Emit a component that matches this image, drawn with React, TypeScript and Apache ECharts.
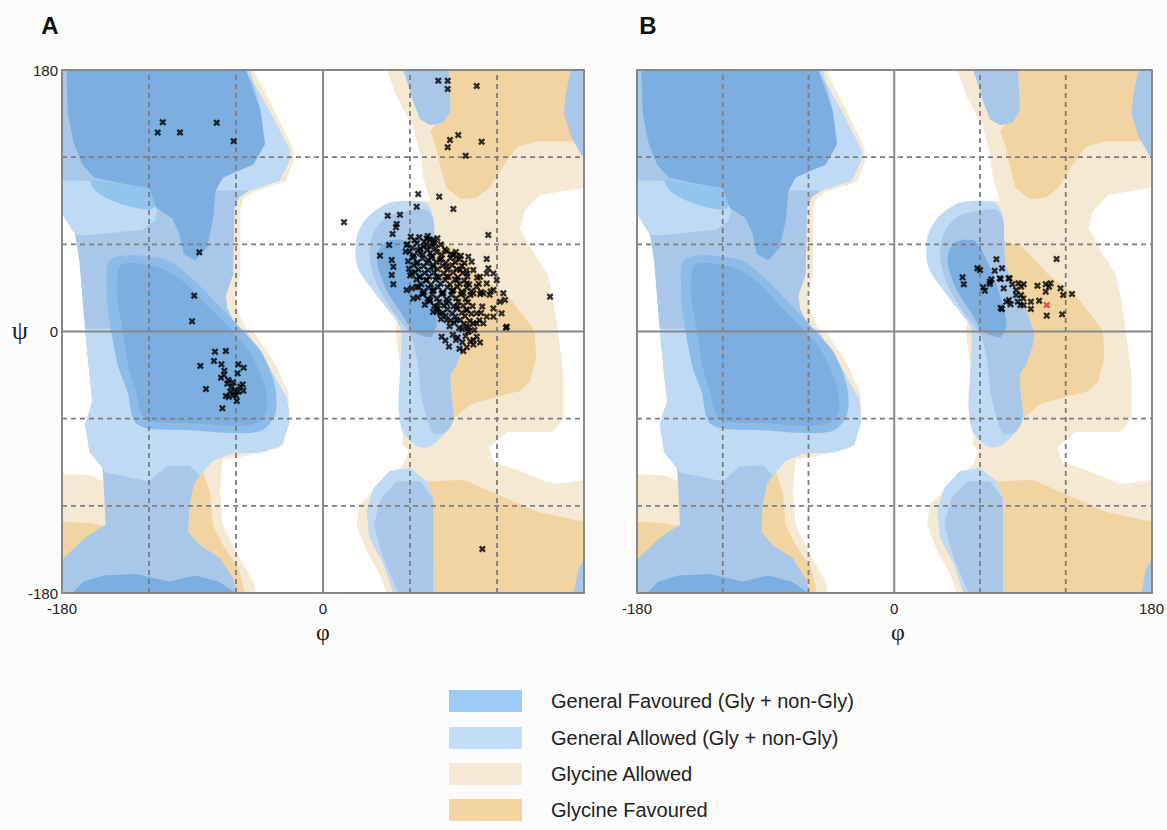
import React, { useEffect, useRef } from "react";
import * as echarts from "echarts";

type Pt = [number, number];

// ---------- axes ----------
const AXIS_MIN = -180;
const AXIS_MAX = 180;
const LABELS_X_A = [-180, 0];
const LABELS_X_B = [-180, 0, 180];
const LABELS_Y = [-180, 0, 180];
const DASHED_LINES = [-120, -60, 60, 120];
const ZERO_LINES = [0];

// ---------- Glycine allowed regions (phi, psi) ----------
const glyAllowedRight: Pt[] = [[44,180],[180,180],[180,-180],[44,-180],[39,-167],[30,-151],[23,-133],[25,-119],[39,-105],[55,-92],[59,-82],[55,-78],[54,-30],[50,0],[51,7],[37,25],[25,44],[23,62],[30,76],[44,85],[60,90],[74,90],[69,106],[67,122],[62,141],[51,161]];
const glyAllowedLeftStrip: Pt[] = [[-48,180],[-34,153],[-21,127],[-20,118],[-26,103],[-48,96],[-55,91],[-57,84],[-57,40],[-60,25],[-59,15],[-53,2],[-48,0],[-33,-22],[-24,-42],[-23,-55],[-30,-80],[-55,-86],[-69,-88],[-71,-110],[-69,-133],[-60,-151],[-48,-172],[-46,-180],[-110,-180],[-110,180]];
const glyAllowedLeftWrap: Pt[] = [[-180,-98],[-160,-99],[-151,-103],[-150,-115],[-150,-135],[-165,-140],[-180,-140]];
const glyAllowedHoleRight: Pt[] = [[181,99],[150,94],[139,83],[136,71],[143,58],[155,39],[159,21],[162,0],[166,-30],[166,-60],[159,-69],[127,-69],[114,-80],[118,-90],[136,-96],[159,-105],[181,-102]];

// ---------- Glycine favoured regions ----------
const glyFavRightTop: Pt[] = [[86,180],[180,180],[180,131],[148,131],[134,127],[125,115],[115,99],[106,92],[95,91],[85,99],[81,113],[78,127],[74,138],[80,146],[88,152]];
const glyFavRightMid: Pt[] = [[70,62],[78,62],[90,58],[108,39],[127,25],[141,7],[146,0],[147,-18],[143,-34],[136,-41],[120,-45],[102,-50],[90,-60],[80,-60],[70,-30],[70,0]];
const glyFavRightBottom: Pt[] = [[65,-103],[76,-103],[97,-102],[120,-112],[148,-124],[180,-131],[180,-180],[65,-180]];
const glyFavLeftWrap: Pt[] = [[-180,-131],[-160,-132],[-150,-134],[-152,-141],[-166,-148],[-180,-157]];
const glyFavLeftLower: Pt[] = [[-100,-96],[-83,-96],[-78,-110],[-76,-133],[-69,-147],[-58,-163],[-54,-180],[-100,-180]];

// ---------- General allowed regions ----------
const genAllowedLeft: Pt[] = [[-180,180],[-53,180],[-37,152],[-23,125],[-23,118],[-30,104],[-51,97],[-58,92],[-61,85],[-62,39],[-67,25],[-66,16],[-59,2],[-53,0],[-37,-25],[-25,-46],[-23,-62],[-28,-78],[-41,-83],[-64,-84],[-76,-89],[-85,-99],[-89,-105],[-92,-119],[-93,-138],[-85,-147],[-71,-156],[-62,-170],[-59,-180],[-180,-180],[-180,-157],[-164,-142],[-150,-133],[-151,-110],[-152,-94],[-161,-83],[-164,-64],[-159,-48],[-161,-30],[-164,0],[-168,48],[-171,67],[-178,78],[-180,81]];
const genAllowedLightBand: Pt[] = [[-180,104],[-165,104],[-140,100],[-118,98],[-114,85],[-116,76],[-125,70],[-145,68],[-165,66],[-171,67],[-178,78],[-180,81]];
const genAllowedLightMid: Pt[] = [[-164,2],[-55,2],[-37,-25],[-25,-46],[-23,-62],[-28,-78],[-41,-83],[-64,-84],[-76,-89],[-85,-99],[-92,-92],[-108,-93],[-120,-103],[-150,-97],[-152,-94],[-161,-83],[-164,-64],[-159,-48],[-161,-30]];
const genAllowedLightRing: Pt[] = [[-53,180],[-37,152],[-23,125],[-23,118],[-30,104],[-51,97],[-74,97],[-69,106],[-48,115],[-40,129],[-43,152],[-50,180]];
const genAllowedAlphaLOuter: Pt[] = [[60,90],[44,88],[30,78],[23,64],[24,44],[37,25],[51,7],[54,0],[53,-30],[52,-53],[55,-69],[65,-79],[74,-79],[85,-69],[90,-60],[89,-48],[88,-30],[92,-23],[97,-9],[98,0],[97,2],[90,21],[78.5,44],[77,62],[76,78],[72,88]];
const genAllowedAlphaLInner: Pt[] = [[46,80],[60,83],[71,84],[76,78],[77,62],[78.5,44],[90,21],[97,2],[98,0],[97,-9],[92,-23],[88,-30],[89,-48],[90,-60],[85,-69],[76,-70],[68,-45],[65,-20],[60,-2],[48,14],[36,35],[32,55],[36,70]];
const genAllowedBetaOuter: Pt[] = [[77,-180],[76,-115],[71.6,-103],[60,-94],[46,-96],[34.6,-108],[30,-124],[32,-142],[41.6,-160],[48.5,-180]];
const genAllowedBetaInner: Pt[] = [[76,-180],[76,-115],[67,-103],[51,-103],[40,-115],[35,-133],[41.6,-156],[52,-180]];
const genAllowedTopRight: Pt[] = [[55,180],[86.6,180],[88,152],[83,144],[74,142],[67,146],[62,159],[57,175]];
const genAllowedWrapTop: Pt[] = [[171,180],[167.5,164],[166,150],[171,134],[178,122],[180,120],[180,180]];
const genAllowedWrapBottom: Pt[] = [[180,-157],[176,-164],[173,-180],[180,-180]];

// ---------- General favoured regions ----------
const genFavBrightPatch: Pt[] = [[-160,104],[-138,101],[-119,99],[-115,88],[-120,84],[-140,88],[-156,96]];
const genFavAlphaRing: Pt[] = [[-146,50],[-110,50],[-92,38],[-72,18],[-55,0],[-42,-15],[-33,-38],[-33,-57],[-42,-68],[-60,-70],[-92,-68],[-120,-67],[-130,-62],[-135,-41],[-141,-25],[-146,0],[-149,25]];
const genFavTop: Pt[] = [[-177,180],[-53,180],[-43,152],[-40,129],[-48,115],[-69,106],[-74,97],[-76,76],[-80,58],[-88,49],[-96,53],[-99,67],[-104,78],[-115,85],[-120,99],[-140,102],[-158,106],[-166,115],[-172,130],[-176,150]];
const genFavAlpha: Pt[] = [[-139,46],[-113,44],[-97,35],[-78,16],[-62,0],[-50,-15],[-40,-38],[-39,-55],[-46,-63],[-60,-65],[-92,-63],[-118,-62],[-125,-57],[-129,-41],[-134,-25],[-138,0],[-142,25]];
const genFavBottomBand: Pt[] = [[-173,-180],[-165,-172],[-151,-168],[-129,-167],[-106,-172],[-88,-168],[-72,-172],[-60,-180]];
const genFavAlphaL: Pt[] = [[38,55],[44,62],[55,63],[60,58],[67,44],[74,25],[78.5,7],[77,0],[74,-4],[62,0],[55,11],[44,28],[38,44]];

// ---------- residues (phi, psi) ----------
const panelASparse: Pt[] = [
  [-110.5,144],[-114,137],[-98.6,137],[-73.3,143.7],[-61.6,131],[-85.3,54.5],[-88.8,24.6],[-90.3,7],
  [-74.5,-13.9],[-67,-13.4],[-75.2,-20.3],[-70,-22.6],[-84.6,-23.7],[-58.4,-22.6],[-54.7,-24.9],[-58.9,-28.8],[-68.3,-29.9],[-70.3,-31.8],[-65.3,-33.4],[-80.7,-39.6],[-55.4,-36.4],[-63,-38],[-60.7,-40.3],[-64,-41.4],[-58.4,-41.4],[-54.9,-40.8],[-61.8,-43.7],[-67,-44.4],[-59.5,-47.8],[-69.4,-52.9],[-66,-36],[-62,-35],[-60,-44],[-57,-38],[-65,-45],[-68,-27],
  [79.5,172.6],[86,172.6],[86,166.9],[106,169],[93.3,135.2],[87.6,131.8],[109.4,130.6],[86,126.8],[98.4,121],[65.7,94.6],[80.2,92.8],[64.6,85.9],[89.9,84.3],[14.5,75.2],[44.6,79.7],[53.1,80.4],[50.8,74],[50.3,71.7],[114,66.4],[48,67.1],[45.7,59.5],[39.3,52.2],[47.4,49.2],[48.5,44.6],[47.4,38.9],[48.5,32.5],[57.7,59.5],[57,55],[156.6,24],[112.9,49.9],[126.7,3.3],
  [81.8,-3.6],[86.9,-10.4],[91.7,-5.8],[96.1,-7.4],[96.8,-13.4],[103.7,-5.8],[103.7,-9],[106,-3.6],[104.4,1],[100.4,0],[95.9,1.6],[126.2,2.6],[109.9,-149.7]
];
const panelAClusterEdge: Pt[] = [
  [71.5,64.1],[73.8,63],[76.1,63.4],[77.2,60.7],[69.2,58.4],[66.9,53.8],[73.8,53.8],[72.6,49.2],[64.6,46.9],[61.2,40],[66.9,37.7],[76.1,44.6],[80.7,49.2],[85.3,44.6],[89.9,52.6],[92.2,51.5],[100.2,51.5],[102.5,48],[94.5,42.3],[99.1,40],[103.7,42.3],[108.3,37.7],[112.9,40],[114,43.5],[117.5,40],[119.8,35.4],[112.9,33.1],[106,30.8],[99.1,33.1],[92.2,35.4],[85.3,37.7],[78.4,37.7],[71.5,35.4],[64.6,30.8],[61.2,29.7],[57.7,28.6],[62.3,22.8],[69.2,26.3],[76.1,28.6],[83,26.3],[89.9,28.6],[96.8,26.3],[103.7,26.3],[110.6,26.3],[117.5,28.6],[124.4,26.3],[125.5,21.7],[122.1,20.5],[117.5,15.9],[123.2,12.5],[112.9,10.2],[117.5,10.2],[106,12.5],[99.1,14.8],[92.2,17.1],[85.3,19.4],[78.4,17.1],[73.8,21.7],[80.7,12.5],[78.4,13.6],[85.3,7.9],[92.2,7.9],[99.1,3.3],[100.2,-0.1],[106,5.6],[110.6,5.6]
];
const panelAClusterCore: Pt[] = [
  [60.5,65.2],[63.1,62.8],[66.4,64.9],[69.8,61.7],[72.3,65.8],[75.6,61.3],[78.9,64.2],
  [58.2,60.1],[61.7,57.6],[64.9,60.8],[67.3,56.9],[71.2,59.6],[74.4,58.3],[77.8,57.1],[81.3,59.9],[84.1,56.4],
  [59.6,54.7],[62.8,52.3],[65.5,55.9],[68.9,52.8],[72.1,56.4],[75.3,52.1],[78.6,54.6],[81.9,52.9],[85.2,55.2],[88.4,53.3],[91.7,54.8],[95.1,52.2],
  [58.7,48.3],[61.9,50.9],[65.2,47.6],[68.6,50.4],[71.9,47.1],[74.7,50.8],[78.2,47.9],[81.6,50.2],[84.7,47.3],[87.9,50.6],[91.2,47.8],[94.3,49.7],[97.6,47.1],
  [59.3,43.2],[62.6,45.8],[65.8,42.6],[69.3,45.1],[72.6,42.2],[75.9,45.7],[79.1,42.9],[82.4,45.3],[85.8,42.4],[89.1,45.6],[92.4,42.8],[95.7,45.2],[98.9,42.1],
  [60.1,38.6],[63.4,40.9],[66.7,37.4],[70.1,40.3],[73.3,37.8],[76.6,40.8],[79.8,37.2],[83.2,40.1],[86.5,37.6],[89.7,40.7],[93.1,37.3],[96.4,40.4],[99.6,37.9],[106.3,37.1],
  [64.5,35.8],[67.8,32.6],[71.1,35.3],[74.5,32.2],[77.7,35.7],[81.1,32.9],[84.3,35.4],[87.6,32.3],[90.9,35.9],[94.2,32.7],[97.5,35.1],[100.8,32.4],[107.4,32.8],
  [66.1,30.7],[69.4,27.5],[72.7,30.2],[76.1,27.9],[79.3,30.6],[82.6,27.1],[85.9,30.4],[89.2,27.7],[92.5,30.9],[95.8,27.4],[99.1,30.1],[102.4,27.8],[109.1,27.2],[115.6,27.6],
  [65.4,23.6],[68.7,25.8],[72.1,22.4],[75.3,25.4],[78.6,22.8],[81.9,25.9],[85.2,22.2],[88.5,25.2],[91.8,22.9],[95.2,25.6],[98.4,22.3],[101.7,25.1],[108.4,25.7],[114.9,25.3],
  [70.2,18.4],[73.5,20.8],[76.8,17.6],[80.2,20.3],[83.4,17.9],[86.7,20.9],[90.1,17.3],[93.3,20.5],[96.6,17.8],[99.9,20.2],[103.2,17.5],[109.8,17.2],
  [75.9,13.5],[79.2,15.8],[82.5,12.7],[85.8,15.3],[89.1,12.4],[92.4,15.7],[95.7,12.9],[99.1,15.1],[102.3,12.2],[108.9,12.8],
  [81.4,8.6],[84.7,10.9],[88.1,7.5],[91.3,10.3],[94.6,7.9],[97.9,10.6],[101.2,7.2],[107.8,7.7],
  [87.3,3.6],[90.6,5.9],[93.9,2.4],[97.2,5.3],[100.5,2.8],[103.8,5.6],
  [89.5,-2.3],[92.8,-4.1],[98.4,-3.2],[101.6,-6.9],[99.2,-10.8],[94.1,-11.9],[108.3,-7.6],[84.4,-6.2]
];
const panelBPoints: Pt[] = [
  [47.8,37.3],[48.7,32.5],[58.1,43.5],[60,42.3],[71.5,49.7],[75.4,43.5],[70.3,41.8],[80.7,36.6],[74.5,36.1],[68,35.9],[62.3,30.4],[63.4,28.1],[66.9,32.7],[66.9,34.3],[76.6,29.7],[82.6,32.5],[86.9,33.2],[88.8,30.8],[90.6,32.5],[85.3,28.6],[85.3,25.1],[88.8,25.1],[90.3,22.8],[86.4,20.5],[78.4,20.5],[80.3,21.6],[75.4,15.5],[81.4,18.7],[88.3,18.2],[90.6,18.2],[95.6,20.5],[101.4,21.2],[100.2,31.5],[106,32.5],[109.4,33.2],[108.3,30.8],[106,27.4],[113.6,49.9],[116.3,29.7],[118.2,25.1],[124.4,25.8],[95.6,15.5],[106.7,10.9],[117.5,11.8],[73.8,36.6],[80,36.6],[74.5,16.2]
];
const panelBOutliers: Pt[] = [[106.7,18.2]];

const LEGEND_LABELS = ["General Favoured (Gly + non-Gly)", "General Allowed (Gly + non-Gly)", "Glycine Allowed", "Glycine Favoured"];

// ---------- styles ----------
const C = {
  beige: "#f6e9d4",
  orange: "#f2d4a2",
  white: "#ffffff",
  light: "#bfdaf5",
  medium: "#a9c8e9",
  bright: "#92c4f0",
  ring: "#8dbbe7",
  dark: "#7cafe0",
  legend: ["#9ccbf8", "#c3ddf7", "#f6e9d5", "#f2d4a1"],
};
const X_SYMBOL = "path://M0,2.4L2.4,0L5,2.6L7.6,0L10,2.4L7.4,5L10,7.6L7.6,10L5,7.4L2.4,10L0,7.6L2.6,5Z";
const SANS = "Liberation Sans, Arial, sans-serif";
const SERIF = "Liberation Serif, Times New Roman, serif";

function regionSeries(name: string, shapes: Pt[][], colors: string[], g: number, smooth: number[] = []) {
  return {
    type: "custom",
    name,
    xAxisIndex: 2 * g,
    yAxisIndex: 2 * g,
    z: 2,
    silent: true,
    clip: true,
    data: shapes.map(() => [0, 0]),
    renderItem: (params: any, api: any) => {
      const i = params.dataIndex;
      const shape = shapes[i];
      return {
        type: "polygon",
        shape: { points: shape.map((p) => api.coord(p)), smooth: smooth[i] || 0 },
        style: { fill: colors[i], stroke: null },
      };
    },
  };
}

function gridLineSeries(g: number) {
  const data = [...DASHED_LINES.map((v) => [v, 0]), ...ZERO_LINES.map((v) => [v, 1])];
  return {
    type: "custom",
    xAxisIndex: 2 * g,
    yAxisIndex: 2 * g,
    z: 5,
    silent: true,
    data,
    renderItem: (params: any, api: any) => {
      const v = api.value(0);
      const solid = api.value(1) === 1;
      const a = api.coord([v, AXIS_MIN]);
      const b = api.coord([v, AXIS_MAX]);
      const c = api.coord([AXIS_MIN, v]);
      const d = api.coord([AXIS_MAX, v]);
      const style = solid
        ? { stroke: "#888888", lineWidth: 2 }
        : { stroke: "#7d7d7d", lineWidth: 1.8, lineDash: [5, 4] };
      return {
        type: "group",
        children: [
          { type: "line", shape: { x1: a[0], y1: a[1], x2: b[0], y2: b[1] }, style },
          { type: "line", shape: { x1: c[0], y1: c[1], x2: d[0], y2: d[1] }, style },
        ],
      };
    },
  };
}

function axisPair(g: number, labels: number[] | null, dir: "x" | "y") {
  const line = { show: true, lineStyle: { color: "#888888", width: 2 } };
  const main: any = {
    gridIndex: g,
    type: "value",
    min: AXIS_MIN,
    max: AXIS_MAX,
    interval: 180,
    z: 6,
    position: dir === "x" ? "bottom" : "left",
    axisLine: { ...line, onZero: false },
    axisTick: { show: false },
    splitLine: { show: false },
    axisLabel: {
      show: !!labels,
      color: "#222",
      fontSize: 15,
      fontFamily: SANS,
      margin: dir === "x" ? 8 : 4,
      formatter: (v: number) => (labels && labels.includes(v) ? String(v) : ""),
    },
  };
  const other: any = {
    gridIndex: g,
    type: "value",
    min: AXIS_MIN,
    max: AXIS_MAX,
    interval: 180,
    z: 6,
    position: dir === "x" ? "top" : "right",
    axisLine: { ...line, onZero: false },
    axisTick: { show: false },
    splitLine: { show: false },
    axisLabel: { show: false },
  };
  return [main, other];
}

function pointSeries(name: string, data: Pt[], axis: number, color: string, z: number) {
  return {
    type: "scatter",
    name,
    xAxisIndex: axis,
    yAxisIndex: axis,
    z,
    silent: true,
    symbol: X_SYMBOL,
    symbolSize: 7,
    itemStyle: { color },
    data,
  };
}

function buildOption() {
  const series: any[] = [];
  for (let g = 0; g < 2; g++) {
    series.push(
      regionSeries("Glycine Allowed", [glyAllowedRight, glyAllowedLeftStrip, glyAllowedLeftWrap, glyAllowedHoleRight], [C.beige, C.beige, C.beige, C.white], g),
      regionSeries("Glycine Favoured", [glyFavRightTop, glyFavRightMid, glyFavRightBottom, glyFavLeftWrap, glyFavLeftLower], [C.orange, C.orange, C.orange, C.orange, C.orange], g),
      regionSeries(
        "General Allowed",
        [genAllowedLeft, genAllowedLightBand, genAllowedLightMid, genAllowedLightRing, genAllowedAlphaLOuter, genAllowedAlphaLInner, genAllowedBetaOuter, genAllowedBetaInner, genAllowedTopRight, genAllowedWrapTop, genAllowedWrapBottom],
        [C.medium, C.light, C.light, C.light, C.light, C.medium, C.light, C.medium, C.medium, C.medium, C.medium],
        g,
        [0, 0, 0, 0, 0.3, 0.3, 0, 0, 0, 0, 0]
      ),
      regionSeries(
        "General Favoured",
        [genFavBrightPatch, genFavAlphaRing, genFavTop, genFavAlpha, genFavBottomBand, genFavAlphaL],
        [C.bright, C.ring, C.dark, C.dark, C.dark, C.dark],
        g,
        [0.3, 0.3, 0, 0.3, 0, 0.3]
      ),
      gridLineSeries(g)
    );
  }
  series.push(pointSeries("Residues A", [...panelASparse, ...panelAClusterEdge, ...panelAClusterCore], 0, "#000", 10));
  series.push(pointSeries("Residues B", panelBPoints, 2, "#000", 10));
  series.push(pointSeries("Outlier B", panelBOutliers, 2, "#e0332b", 11));

  const xA = axisPair(0, LABELS_X_A, "x");
  const xB = axisPair(1, LABELS_X_B, "x");
  const yA = axisPair(0, LABELS_Y, "y");
  const yB = axisPair(1, null, "y");

  const legendGraphics: any[] = [];
  LEGEND_LABELS.forEach((label, i) => {
    const top = [690, 727, 763, 799][i];
    legendGraphics.push({ type: "rect", shape: { x: 449, y: top, width: 73, height: 22 }, style: { fill: C.legend[i] } });
    legendGraphics.push({
      type: "text",
      x: 551,
      y: top + 11,
      style: { text: label, fill: "#222", font: `20px ${SANS}`, verticalAlign: "middle" },
    });
  });

  return {
    animation: false,
    backgroundColor: "#fcfcfc",
    grid: [
      { left: 62, top: 70, width: 522, height: 523, show: true, backgroundColor: "#ffffff", borderWidth: 0 },
      { left: 637, top: 70, width: 522, height: 523, show: true, backgroundColor: "#ffffff", borderWidth: 0 },
    ],
    xAxis: [...xA, ...xB],
    yAxis: [...yA, ...yB],
    series,
    graphic: [
      { type: "text", x: 50, y: 25, style: { text: "A", fill: "#111", font: `bold 24px ${SANS}`, align: "center", verticalAlign: "middle" } },
      { type: "text", x: 648, y: 25, style: { text: "B", fill: "#111", font: `bold 24px ${SANS}`, align: "center", verticalAlign: "middle" } },
      { type: "text", x: 20, y: 330, style: { text: "ψ", fill: "#222", font: `26px ${SERIF}`, align: "center", verticalAlign: "middle" } },
      { type: "text", x: 323, y: 632, style: { text: "φ", fill: "#222", font: `24px ${SERIF}`, align: "center", verticalAlign: "middle" } },
      { type: "text", x: 898, y: 632, style: { text: "φ", fill: "#222", font: `24px ${SERIF}`, align: "center", verticalAlign: "middle" } },
      ...legendGraphics,
    ],
  };
}

export default function App() {
  const ref = useRef<HTMLDivElement>(null);
  useEffect(() => {
    if (!ref.current) return;
    const chart = echarts.init(ref.current, undefined, { renderer: "svg" });
    chart.setOption(buildOption() as any);
    return () => chart.dispose();
  }, []);
  return (
    <div
      ref={ref}
      style={{ position: "absolute", left: 0, top: 0, width: 1167, height: 830, background: "#fcfcfc" }}
    />
  );
}
